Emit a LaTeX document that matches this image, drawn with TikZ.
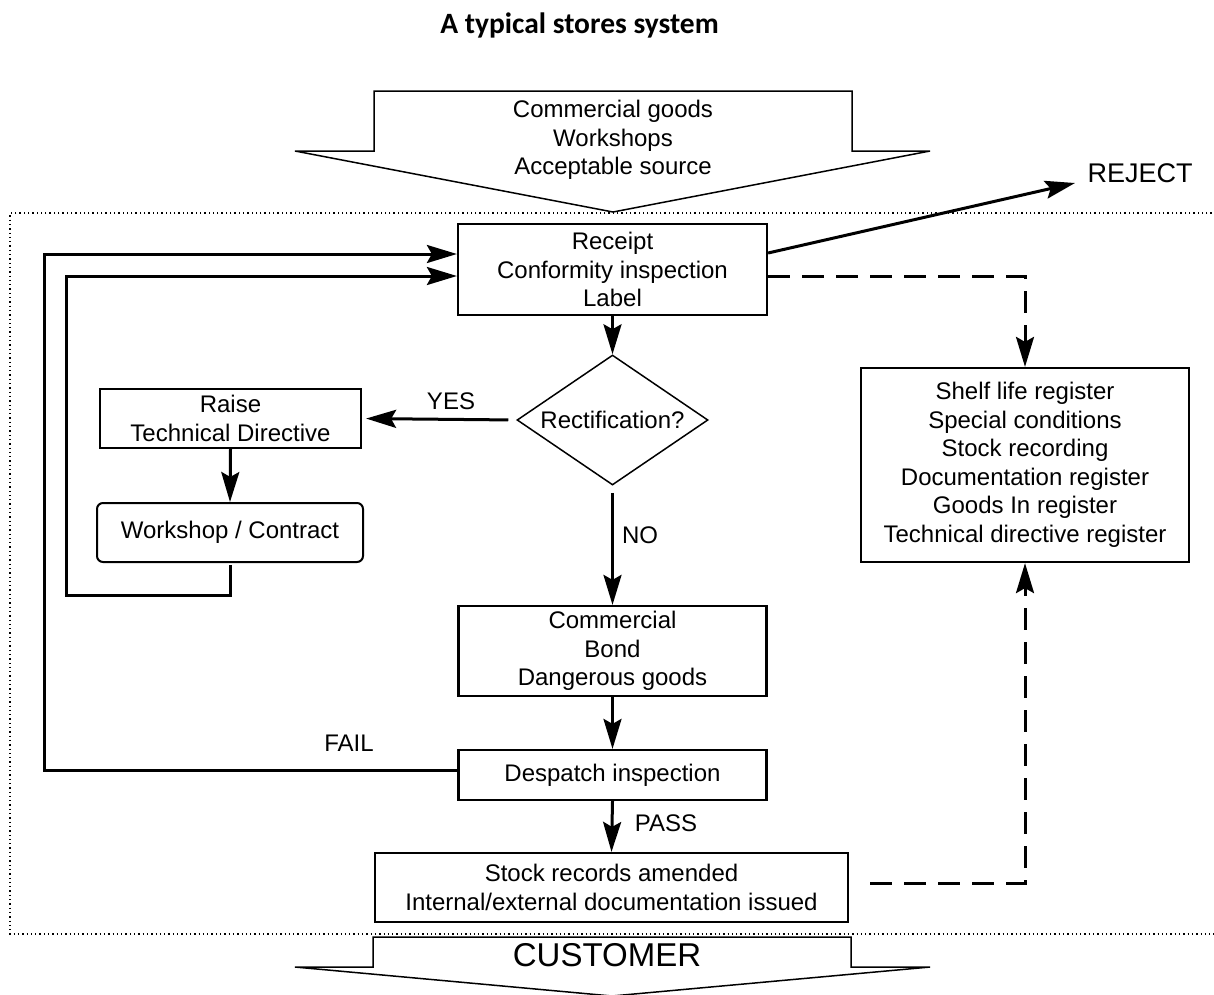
\documentclass[tikz,border=0pt]{standalone}
\usepackage{fontspec}
\setmainfont{Liberation Sans}
\newfontfamily\titlefont{Carlito}
\usetikzlibrary{arrows.meta,shapes.geometric}
\begin{document}
\begin{tikzpicture}[x=1pt,y=-1pt,
  every node/.style={font=\fontsize{24pt}{28.5pt}\selectfont},
  box/.style={draw, line width=2.2pt, align=center, inner sep=0pt},
  arr/.style={line width=3pt, -{Stealth[length=30pt,width=18pt,inset=5pt]}},
  darr/.style={line width=3pt, dash pattern=on 22pt off 12pt, -{Stealth[length=30pt,width=18pt,inset=5pt]}},
  bigarrow/.style={draw, line width=1.5pt, fill=white, line join=miter},
  frame/.style={line width=1.3pt, dash pattern=on 1.3pt off 3pt},
  lbl/.style={inner sep=0pt}]
\useasboundingbox (0,0) rectangle (1214,994);

% title
\node[font=\titlefont\bfseries\fontsize{29.5pt}{34pt}\selectfont, anchor=base] (title) at (579.5,33) {A typical stores system};

% dotted frame
\draw[frame] (1216,213) -- (10,213) -- (10,934) -- (1216,934);

% source arrow
\draw[bigarrow] (374,91) -- (852,91) -- (852,151) -- (930,151) -- (613,212) -- (295,151) -- (374,151) -- cycle;
\node[align=center] (src) at (613,140) {Commercial goods\\Workshops\\Acceptable source};

% customer arrow
\draw[bigarrow] (373,937) -- (851,937) -- (851,967) -- (930,967) -- (612,996) -- (295,967) -- (373,967) -- cycle;
\node[font=\fontsize{33pt}{38pt}\selectfont] (cust) at (607,955) {CUSTOMER};

% nodes
\node[box, minimum width=309pt, minimum height=91pt] (rc) at (612.5,269.5) {Receipt\\Conformity inspection\\Label};
\node[draw, shape=diamond, line width=1.5pt, inner sep=0pt, aspect=1.47, minimum width=191pt, minimum height=130pt] (dm) at (612.5,420) {Rectification?};
\node[box, minimum width=261pt, minimum height=59pt] (rd) at (230.5,418.5) {Raise\\Technical Directive};
\node[box, line width=2pt, rounded corners=6pt, minimum width=266pt, minimum height=59pt] (ws) at (230,532.5) {Workshop / Contract};
\node[box, minimum width=308pt, minimum height=90pt] (cm) at (612.5,651) {Commercial\\Bond\\Dangerous goods};
\node[box, minimum width=308pt, minimum height=50pt] (dp) at (612.5,775) {Despatch inspection};
\node[box, minimum width=473pt, minimum height=69pt] (st) at (611.5,887.5) {Stock records amended\\Internal/external documentation issued};
\node[box, minimum width=328pt, minimum height=194pt] (sh) at (1025,465) {Shelf life register\\Special conditions\\Stock recording\\Documentation register\\Goods In register\\Technical directive register};
\node[font=\fontsize{27pt}{32pt}\selectfont] (rej) at (1140,173) {REJECT};

% coordinates
\coordinate (rj) at (1075,183);
\coordinate (r1) at (0,253);
\coordinate (d1) at (1025,276);
\coordinate (d2) at (1025,883);
\coordinate (i1) at (66,595);
\coordinate (i2) at (66,276);
\coordinate (o1) at (44,770);
\coordinate (o2) at (44,254);

% connectors
\draw[arr] (rc.south) -- (dm.north);
\draw[arr, shorten <=8pt, shorten >=4pt] (dm.west) -- (rd.east);
\draw[arr] (rd.south) -- (ws.north);
\draw[arr, shorten <=7pt] (dm.south) -- (cm.north);
\draw[arr] (cm.south) -- (dp.north);
\draw[arr] (dp.south) -- (st.north);
\draw[arr, shorten <=2pt] (ws.south) |- (i1) -- (i2) -- (rc.west |- i2);
\draw[arr] (dp.west |- o1) -- (o1) -- (o2) -- (rc.west |- o2);
\draw[arr] (rc.east |- r1) -- (rj);
\draw[darr] (rc.east |- d1) -- (d1) -- (sh.north);
\draw[darr, shorten <=21pt] (st.east |- d2) -- (d2) -- (sh.south);

% labels
\node[lbl] (yes) at (451,401) {YES};
\node[lbl] (no) at (640,535) {NO};
\node[lbl] (fail) at (349,743) {FAIL};
\node[lbl] (pass) at (666,823) {PASS};
\end{tikzpicture}
\end{document}
